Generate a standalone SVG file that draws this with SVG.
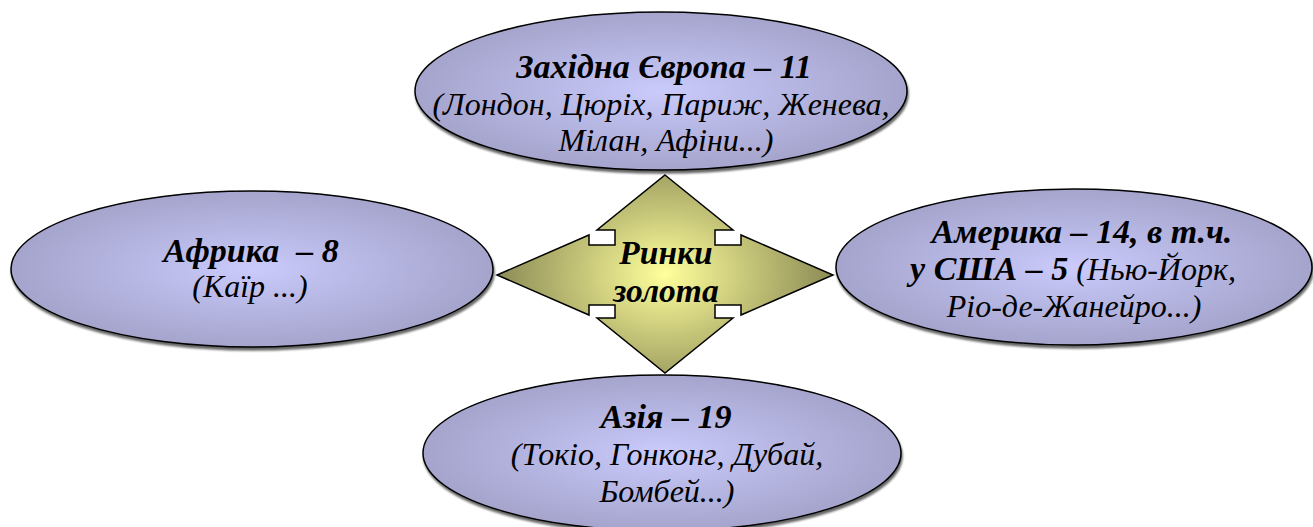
<svg xmlns="http://www.w3.org/2000/svg" width="1313" height="527" viewBox="0 0 1313 527">
<defs>
<radialGradient id="gEll" cx="50%" cy="50%" r="50%">
<stop offset="0" stop-color="#cacafc"/>
<stop offset="1" stop-color="#a4a4cc"/>
</radialGradient>
<radialGradient id="gArr" gradientUnits="userSpaceOnUse" cx="665" cy="274" r="170" gradientTransform="translate(665 274) scale(1 0.75) translate(-665 -274)">
<stop offset="0" stop-color="#ffff9c"/>
<stop offset="1" stop-color="#8a8a55"/>
</radialGradient>
<filter id="sh" x="-5%" y="-5%" width="110%" height="115%">
<feGaussianBlur in="SourceAlpha" stdDeviation="1.2"/>
<feOffset dx="1" dy="2.5" result="b"/>
<feComponentTransfer><feFuncA type="linear" slope="0.6"/></feComponentTransfer>
<feMerge><feMergeNode/><feMergeNode in="SourceGraphic"/></feMerge>
</filter>
</defs>
<style>
.ell{fill:url(#gEll);stroke:#000;stroke-width:1.5;filter:url(#sh)}
.t{font-family:"Liberation Serif","Times New Roman",serif;font-style:italic;font-size:32px;fill:#000;text-anchor:middle}
.b{font-weight:bold;font-size:34px}
.c{font-size:33.5px}
</style>
<rect width="1313" height="527" fill="#fff"/>
<g id="connectors">
<path id="quad-arrow" d="M665,175 L733,230 L715,230 L715,245 L741,245 L741,235 L833,275 L741,315 L741,305 L715,305 L715,318 L733,318 L665,373 L597,318 L615,318 L615,305 L589,305 L589,315 L497,275 L589,235 L589,245 L615,245 L615,230 L597,230 Z" fill="url(#gArr)" stroke="#000" stroke-width="1.5" stroke-linejoin="miter"/>
</g>
<g id="center">
<text class="t b c" x="666" y="264">Ринки</text>
<text class="t b c" x="666" y="302">золота</text>
</g>
<g id="europe">
<ellipse class="ell" cx="661" cy="91" rx="246" ry="79"/>
<text class="t b" x="664" y="78">Західна Європа – 11</text>
<text class="t" x="661" y="115">(Лондон, Цюріх, Париж, Женева,</text>
<text class="t" x="666" y="151">Мілан, Афіни...)</text>
</g>
<g id="africa">
<ellipse class="ell" cx="252" cy="269" rx="241" ry="78"/>
<text class="t b" x="251" y="262" xml:space="preserve">Африка  – 8</text>
<text class="t" x="250" y="297">(Каїр ...)</text>
</g>
<g id="america">
<ellipse class="ell" cx="1074" cy="267" rx="238" ry="78"/>
<text class="t b" x="1082" y="243">Америка – 14, в т.ч.</text>
<text class="t" x="1073" y="280"><tspan class="b">у США – 5</tspan> (Нью-Йорк,</text>
<text class="t" x="1074" y="317">Ріо-де-Жанейро...)</text>
</g>
<g id="asia">
<ellipse class="ell" cx="662" cy="453" rx="239" ry="78"/>
<text class="t b" x="666" y="428">Азія – 19</text>
<text class="t" x="667" y="465">(Токіо, Гонконг, Дубай,</text>
<text class="t" x="667" y="502">Бомбей...)</text>
</g>
</svg>
